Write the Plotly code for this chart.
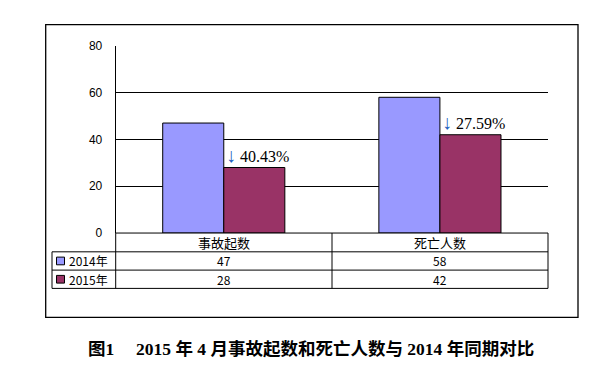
import plotly.graph_objects as go

W, H = 606, 375
OFF = 8  # default page body margin

categories = ["事故起数", "死亡人数"]
series_names = ["2014年", "2015年"]
values_2014 = [47, 58]
values_2015 = [28, 42]
change_labels = ["40.43%", "27.59%"]
y_ticks = [0, 20, 40, 60, 80]
caption = "图1　 2015 年 4 月事故起数和死亡人数与 2014 年同期对比"

colors = ["#9999FF", "#993366"]

# layout (window pixels)
PL, PR, PT, PB = 115.7, 548, 40, 234.5
TBL_L = 52
ROW = [234.5, 254, 273, 292]
COL_MID = 332


def px(x):
    return (x - OFF) / W


def py(y):
    return 1 - (y - OFF) / H


fig = go.Figure()
for name, vals, c in zip(series_names, [values_2014, values_2015], colors):
    fig.add_trace(go.Bar(x=categories, y=vals, name=name, marker_color=c,
                         marker_line_color="black", marker_line_width=1,
                         showlegend=False))

shapes = []
# outer frame
shapes.append(dict(type="rect", xref="paper", yref="paper",
                   x0=px(45.7), x1=px(578), y0=py(18), y1=py(322),
                   line=dict(color="black", width=1.3)))
# table horizontal lines
shapes.append(dict(type="line", xref="paper", yref="paper", x0=px(PL), x1=px(PR),
                   y0=py(ROW[0]), y1=py(ROW[0]), line=dict(color="black", width=1)))
for r in ROW[1:]:
    shapes.append(dict(type="line", xref="paper", yref="paper", x0=px(TBL_L), x1=px(PR),
                       y0=py(r), y1=py(r), line=dict(color="black", width=1)))
# table vertical lines
shapes.append(dict(type="line", xref="paper", yref="paper", x0=px(TBL_L), x1=px(TBL_L),
                   y0=py(ROW[1]), y1=py(ROW[3]), line=dict(color="black", width=1)))
for xv in [PL, COL_MID, PR]:
    shapes.append(dict(type="line", xref="paper", yref="paper", x0=px(xv), x1=px(xv),
                       y0=py(ROW[0]), y1=py(ROW[3]), line=dict(color="black", width=1)))
# legend keys
for i, c in enumerate(colors):
    yc = (ROW[1 + i] + ROW[2 + i]) / 2
    shapes.append(dict(type="rect", xref="paper", yref="paper",
                       x0=px(56.5), x1=px(64.5), y0=py(yc - 4), y1=py(yc + 4),
                       fillcolor=c, line=dict(color="black", width=1)))

annotations = []
tfont = dict(family="SimSun, Noto Sans CJK SC", size=12, color="black")
hfont = dict(family="SimSun, Noto Sans CJK SC", size=13, color="black")
col_centers = [(PL + COL_MID) / 2, (COL_MID + PR) / 2]
for cx, cat in zip(col_centers, categories):
    annotations.append(dict(xref="paper", yref="paper", x=px(cx), y=py((ROW[0] + ROW[1]) / 2),
                            text=cat, showarrow=False, font=hfont,
                            xanchor="center", yanchor="middle"))
for i, (name, vals) in enumerate(zip(series_names, [values_2014, values_2015])):
    yc = (ROW[1 + i] + ROW[2 + i]) / 2
    annotations.append(dict(xref="paper", yref="paper", x=px(66.5), y=py(yc),
                            text=name, showarrow=False, font=tfont,
                            xanchor="left", yanchor="middle"))
    for cx, v in zip(col_centers, vals):
        annotations.append(dict(xref="paper", yref="paper", x=px(cx), y=py(yc),
                                text=str(v), showarrow=False, font=tfont,
                                xanchor="center", yanchor="middle"))
# change labels
for cat, v, lab in zip(categories, values_2015, change_labels):
    annotations.append(dict(xref="x", yref="y", x=cat, y=v,
                            text='<span style="color:#1f5fbf;font-size:20px">↓</span> ' + lab,
                            showarrow=False, xanchor="left", yanchor="bottom",
                            xshift=0, yshift=0,
                            font=dict(family="Liberation Serif", size=16, color="black")))
# caption
annotations.append(dict(xref="paper", yref="paper", x=px(311), y=py(355),
                        text="<b>" + caption + "</b>", showarrow=False,
                        xanchor="center", yanchor="middle",
                        font=dict(family="Liberation Serif, Noto Sans CJK SC", size=17.5,
                                  color="black")))

fig.update_layout(
    width=W, height=H, autosize=False,
    margin=dict(l=0, r=0, t=0, b=0),
    paper_bgcolor="white", plot_bgcolor="white",
    barmode="group", bargap=0.435, bargroupgap=0,
    xaxis=dict(domain=[px(PL), px(PR)], showticklabels=False, showgrid=False,
               zeroline=False, showline=False, ticks=""),
    yaxis=dict(domain=[py(PB), py(PT)], range=[0, 80], tickvals=y_ticks,
               showgrid=True, gridcolor="black", gridwidth=1,
               showline=True, linecolor="black", linewidth=1, zeroline=False,
               ticks="", ticklabelstandoff=10,
               tickfont=dict(family="Liberation Sans, Arial", size=12, color="black")),
    shapes=shapes, annotations=annotations,
)

fig.write_html("out.html")
